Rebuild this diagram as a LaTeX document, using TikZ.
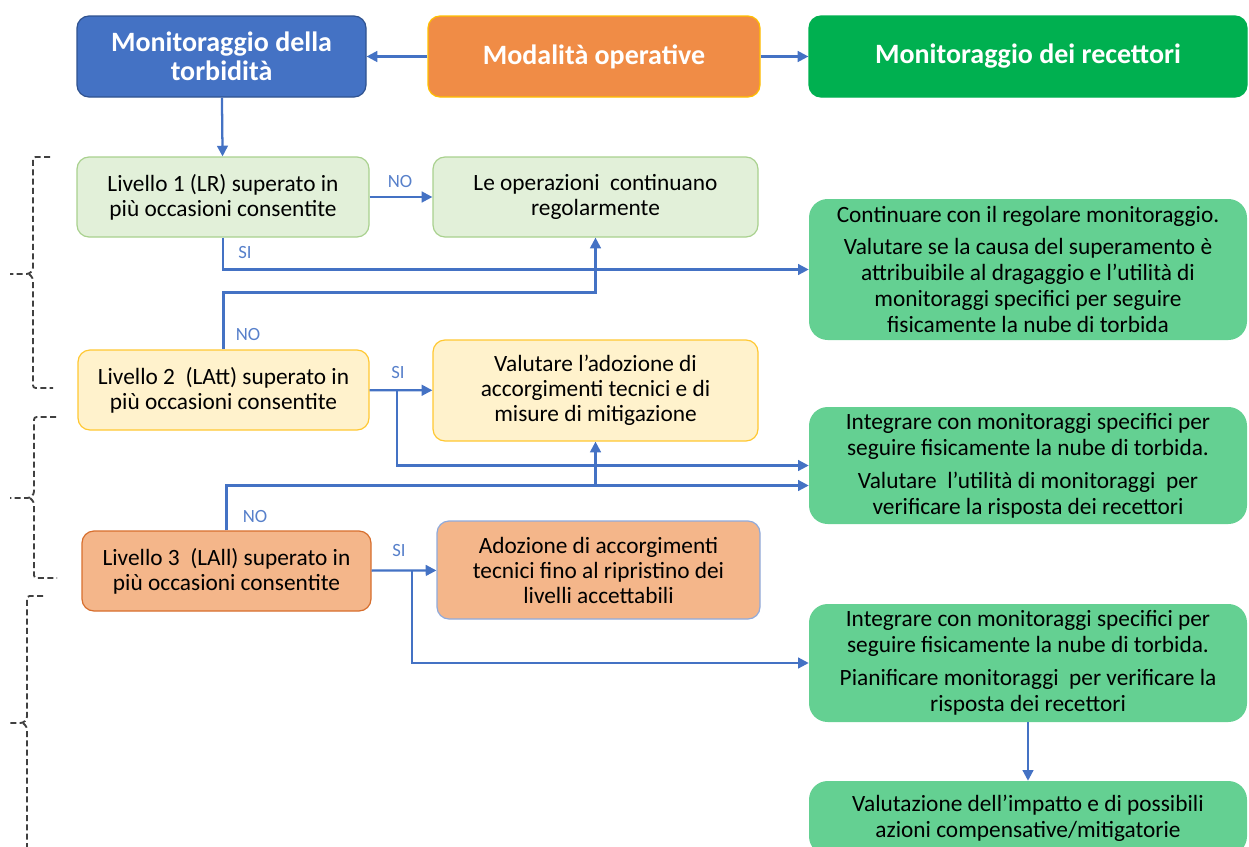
\documentclass[tikz,border=0pt]{standalone}
\usepackage{fontspec}
\setmainfont{Carlito}
\usetikzlibrary{arrows.meta, positioning}

\definecolor{torbblue}{RGB}{68,114,196}
\definecolor{torbedge}{RGB}{47,82,143}
\definecolor{modorange}{RGB}{240,140,70}
\definecolor{goldedge}{RGB}{255,192,0}
\definecolor{recgreen}{RGB}{0,176,80}
\definecolor{actgreen}{RGB}{100,208,146}
\definecolor{lvone}{RGB}{226,240,217}
\definecolor{lvoneedge}{RGB}{169,209,142}
\definecolor{lvtwo}{RGB}{255,242,204}
\definecolor{lvtwoedge}{RGB}{255,200,50}
\definecolor{lvthree}{RGB}{244,182,138}
\definecolor{lvthreeedge}{RGB}{215,110,45}
\definecolor{adoedge}{RGB}{143,170,220}
\definecolor{arrowblue}{RGB}{68,114,196}

\tikzstyle{head} = [rectangle, rounded corners=9pt, align=center, text=white, line width=0.9pt, minimum height=60.75pt, font=\fontsize{21}{21.75}\selectfont\bfseries]
\tikzstyle{level} = [rectangle, rounded corners=9pt, align=center, line width=0.9pt, minimum height=60pt, inner sep=1pt, font=\fontsize{17.5}{18.75}\selectfont]
\tikzstyle{action} = [rectangle, rounded corners=14pt, align=center, fill=actgreen, minimum width=328.5pt, inner sep=1pt, font=\fontsize{17.5}{19.5}\selectfont]
\tikzstyle{arrow} = [line width=1.7pt, draw=arrowblue, -{Triangle[length=8pt,width=8pt]}]
\tikzstyle{lbl} = [text=arrowblue!90, font=\fontsize{14}{15}\selectfont]
\tikzstyle{bracket} = [dash pattern=on 4.5pt off 2.5pt, line width=1.4pt, black!75, rounded corners=2pt]

\begin{document}
\begin{tikzpicture}[x=0.75pt, y=-0.75pt]
\useasboundingbox (0,0) rectangle (1249,846);

% Header row
\node (torb) [head, fill=torbblue, draw=torbedge, minimum width=216.75pt] at (221.5,56.5) {Monitoraggio della\\torbidità};
\node (modal) [head, fill=modorange, draw=goldedge, minimum width=249pt] at (594,56.5) {Modalità operative};
\node (recett) [head, fill=recgreen, draw=recgreen, minimum width=328.5pt] at (1028,56.5) {Monitoraggio dei recettori};

% Levels
\node (lr) [level, fill=lvone, draw=lvoneedge, minimum width=219pt] at (223,197) {Livello 1 (LR) superato in\\più occasioni consentite};
\node (ops) [level, fill=lvone, draw=lvoneedge, minimum width=243.75pt] at (595.5,197) {Le operazioni\ \ continuano\\regolarmente};
\node (latt) [level, fill=lvtwo, draw=lvtwoedge, minimum width=218.25pt] at (223.5,390) {Livello 2\ \ (LAtt) superato in\\più occasioni consentite};
\node (val) [level, fill=lvtwo, draw=lvtwoedge, minimum width=243.75pt, minimum height=75.75pt] at (595.5,390.5) {Valutare l’adozione di\\accorgimenti tecnici e di\\misure di mitigazione};
\node (lall) [level, fill=lvthree, draw=lvthreeedge, minimum width=216.75pt] at (226.5,571) {Livello 3\ \ (LAll) superato in\\più occasioni consentite};
\node (ado) [level, fill=lvthree, draw=adoedge, minimum width=242.25pt, minimum height=73.5pt] at (598.5,570) {Adozione di accorgimenti\\tecnici fino al ripristino dei\\livelli accettabili};

% Receptor actions
\node (rec1) [action, minimum height=105.75pt] at (1028,269.5) {Continuare con\ il regolare monitoraggio.\\[5pt]Valutare se la causa del superamento è\\attribuibile al dragaggio e l’utilità di\\monitoraggi specifici per seguire\\fisicamente la nube di torbida};
\node (rec2) [action, minimum height=87.75pt] at (1028,465.5) {Integrare con monitoraggi specifici per\\seguire fisicamente la nube di torbida.\\[5pt]Valutare\ \ l’utilità di monitoraggi\ \ per\\verificare la risposta dei recettori};
\node (rec3) [action, minimum height=88.5pt] at (1028,663) {Integrare con monitoraggi specifici per\\seguire fisicamente la nube di torbida.\\[5pt]Pianificare monitoraggi\ \ per verificare la\\risposta dei recettori};
\node (rec4) [action, minimum height=55.5pt] at (1028,818) {Valutazione dell’impatto e di possibili\\azioni compensative/mitigatorie};

% Branch labels
\node (no1) [lbl] at (400,182) {NO};
\node (si1) [lbl] at (245,253) {SI};
\node (no2) [lbl] at (248,335) {NO};
\node (si2) [lbl] at (398,373) {SI};
\node (no3) [lbl] at (255,517) {NO};
\node (si3) [lbl] at (399,550) {SI};

% Branch points
\coordinate (b2) at (397,390);
\coordinate (b3) at (412,571);
\coordinate (n3) at ([yshift=-15pt]rec2.west);

% Arrows
\draw [arrow] (modal) -- (torb);
\draw [arrow] (modal) -- (recett);
\draw [arrow] (torb) -- (lr);
\draw [arrow] (lr) -- (ops);
\draw [arrow] (lr.south) |- (rec1.west);
\draw [arrow] (latt.north) -- ++(0,-57) -| (ops.south);
\draw [arrow] (latt) -- (val);
\draw [arrow] (b2) |- (rec2.west);
\draw [arrow] (lall.north) |- (n3);
\draw [arrow] (val.south |- n3) -- (val.south);
\draw [arrow] (lall) -- (ado);
\draw [arrow] (b3) |- (rec3.west);
\draw [arrow] (rec3) -- (rec4);

% Dashed brackets on the left
\draw [bracket] (50,157) -- (33,157) -- (33,270) -- (29,274) -- (10,274);
\draw [bracket] (29,274) -- (33,278) -- (33,388) -- (53,388);
\draw [bracket] (56,417) -- (34,417) -- (34,494) -- (30,498) -- (10,498);
\draw [bracket] (30,498) -- (34,502) -- (34,578) -- (57,578);
\draw [bracket] (43,596) -- (27,596) -- (27,719) -- (23,723) -- (9,723);
\draw [bracket] (23,723) -- (27,727) -- (27,860);

\end{tikzpicture}
\end{document}
